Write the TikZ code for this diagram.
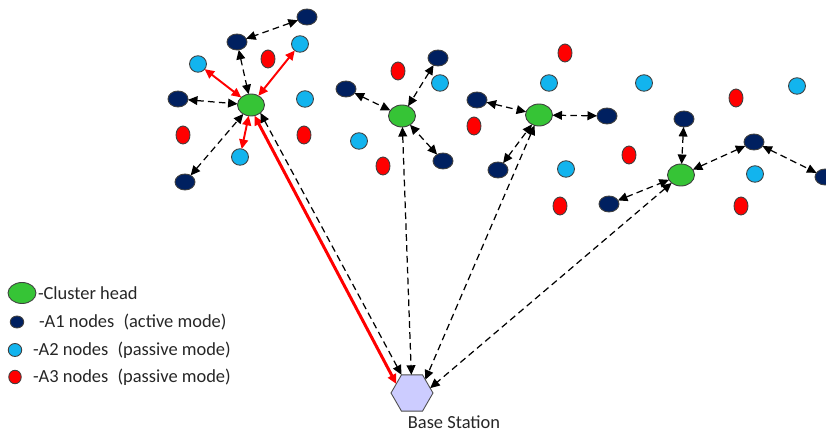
\documentclass[tikz,border=0pt]{standalone}
\usepackage{fontspec}
\setmainfont{Carlito}
\usetikzlibrary{arrows.meta,shapes.geometric}

\definecolor{chgreen}{HTML}{36C436}
\definecolor{aonecol}{HTML}{002060}
\definecolor{atwocol}{HTML}{12B4EE}
\definecolor{athreecol}{HTML}{FF0000}
\definecolor{bscol}{HTML}{CCCCFF}

\begin{document}
\begin{tikzpicture}[x=0.02cm,y=-0.02cm,>={Triangle[length=5.4pt,width=5pt]},
  every node/.style={inner sep=0pt,outer sep=0pt},
  dot/.style={ellipse,draw=black!75,line width=0.5pt},
  chead/.style={dot,fill=chgreen,minimum width=0.54cm,minimum height=0.44cm},
  aone/.style={dot,fill=aonecol,minimum width=0.4cm,minimum height=0.32cm},
  atwo/.style={dot,fill=atwocol,minimum width=0.34cm,minimum height=0.33cm},
  athree/.style={dot,fill=athreecol,minimum width=0.28cm,minimum height=0.36cm},
  bsnode/.style={regular polygon,regular polygon sides=6,minimum size=0.84cm,
    draw=black!70,line width=0.5pt,fill=bscol},
  txt/.style={font=\fontsize{10.5}{12}\selectfont,text=black!85},
  link/.style={<->,dashed,dash pattern=on 3.8pt off 2.4pt,line width=0.7pt},
  redlink/.style={<->,draw=athreecol,line width=1.1pt},
  uplink/.style={<->,draw=athreecol,line width=1.7pt}]
\useasboundingbox (0,0) rectangle (826,432);

% cluster 1
\node[chead] (h1) at (251,105) {};
\node[aone] (a11) at (307,17) {};
\node[aone] (a12) at (237,42) {};
\node[aone] (a13) at (178,99) {};
\node[aone] (a14) at (185,182) {};
\node[atwo] (b11) at (198,64) {};
\node[atwo] (b12) at (300,44) {};
\node[atwo] (b13) at (305,99) {};
\node[atwo] (b14) at (240,157) {};
\node[athree] (r11) at (268,59) {};
\node[athree] (r12) at (183,135) {};
\node[athree] (r13) at (304,135) {};

% cluster 2
\node[chead] (h2) at (402,116) {};
\node[aone] (a21) at (438,58) {};
\node[aone] (a22) at (346,89) {};
\node[aone] (a23) at (443,161) {};
\node[atwo] (b21) at (440,83) {};
\node[atwo] (b22) at (359,141) {};
\node[athree] (r21) at (398,71) {};
\node[athree] (r22) at (383,166) {};

% cluster 3
\node[chead] (h3) at (539,115) {};
\node[aone] (a31) at (477,100) {};
\node[aone] (a32) at (607,116) {};
\node[aone] (a33) at (498,170) {};
\node[atwo] (b31) at (549,83) {};
\node[atwo] (b32) at (566,169) {};
\node[athree] (r31) at (565,53) {};
\node[athree] (r32) at (474,126) {};
\node[athree] (r33) at (560,206) {};

% cluster 4
\node[chead] (h4) at (681,175) {};
\node[aone] (a41) at (684,119) {};
\node[aone] (a42) at (754,142) {};
\node[aone] (a43) at (825,177) {};
\node[aone] (a44) at (609,204) {};
\node[atwo] (b41) at (644,83) {};
\node[atwo] (b42) at (797,86) {};
\node[atwo] (b43) at (755,174) {};
\node[athree] (r41) at (736,98) {};
\node[athree] (r42) at (629,155) {};
\node[athree] (r43) at (741,206) {};

\node[bsnode] (bs) at (412,393) {};
\node[txt] (bslabel) at (454,422) {Base Station};

\draw[link] (a11) -- (a12);
\draw[link] (a12) -- (h1);
\draw[link] (a13) -- (h1);
\draw[link] (a14) -- (h1);
\draw[redlink] (b11) -- (h1);
\draw[redlink] (b12) -- (h1);
\draw[redlink] (b14) -- (h1);

\draw[link] (a21) -- (h2);
\draw[link] (a22) -- (h2);
\draw[link] (a23) -- (h2);

\draw[link] (a31) -- (h3);
\draw[link] (a32) -- (h3);
\draw[link] (a33) -- (h3);

\draw[link] (a41) -- (h4);
\draw[link] (a44) -- (h4);
\draw[link] (a42) -- (h4);
\draw[link] (a42) -- (a43);

\draw[uplink] (h1.-72) -- (bs.150);
\draw[link] (h1.-40) -- (bs.120);
\draw[link] (h2) -- (bs);
\draw[link] (h3) -- (bs.45);
\draw[link] (h4) -- (bs.15);

% legend
\node[chead,minimum width=0.56cm,minimum height=0.42cm] (lg1) at (22,293) {};
\node[aone,minimum width=0.27cm,minimum height=0.24cm] (lg2) at (17,322) {};
\node[atwo,minimum width=0.27cm,minimum height=0.26cm] (lg3) at (15,350) {};
\node[athree,minimum width=0.25cm,minimum height=0.27cm] (lg4) at (15,377) {};
\node[txt,anchor=west] (lt1) at (38,293) {-Cluster head};
\node[txt,anchor=west] (lt2) at (39,322) {-A1 nodes\enspace(active mode)};
\node[txt,anchor=west] (lt3) at (33,350) {-A2 nodes\enspace(passive mode)};
\node[txt,anchor=west] (lt4) at (33,377) {-A3 nodes\enspace(passive mode)};
\end{tikzpicture}
\end{document}
